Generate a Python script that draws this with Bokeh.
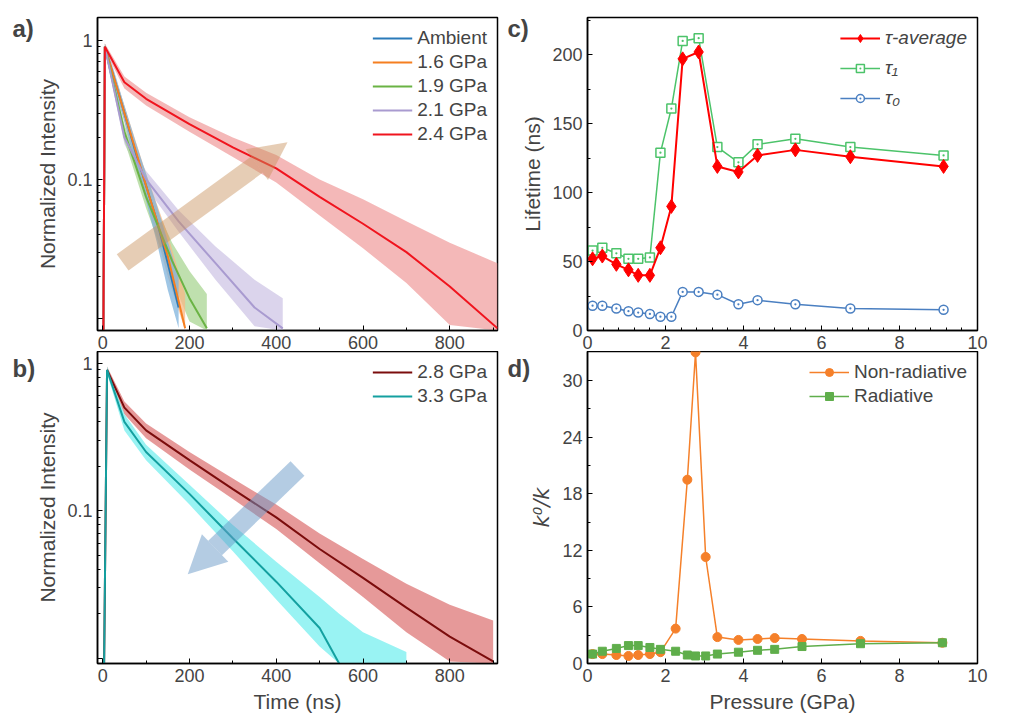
from bokeh.plotting import figure
from bokeh.layouts import row, column
from bokeh.models import FixedTicker, Arrow, NormalHead, Range1d, CustomJSTickFormatter
from bokeh.embed import file_html
from bokeh.resources import INLINE

FONT = "Liberation Sans"

# ---- panel a: decay curves (time ns, normalized intensity)
amb_t = [0, 5, 25, 50, 75, 100, 125, 150, 175]
amb_fit = [0.001, 0.9, 0.55, 0.3, 0.16, 0.09, 0.05, 0.025, 0.012]
amb_lo = [0.001, 0.85, 0.48, 0.26, 0.13, 0.07, 0.035, 0.016, 0.0085]
amb_hi = [0.001, 0.95, 0.62, 0.34, 0.19, 0.11, 0.065, 0.036, 0.02]

p16_t = [0, 5, 50, 100, 150, 190]
p16_fit = [0.001, 0.9, 0.3, 0.09, 0.028, 0.0085]
p16_lo = [0.001, 0.85, 0.26, 0.075, 0.02, 0.0082]
p16_hi = [0.001, 0.95, 0.34, 0.11, 0.04, 0.015]

p19_t = [0, 5, 50, 100, 160, 200, 240]
p19_fit = [0.001, 0.9, 0.22, 0.075, 0.026, 0.014, 0.0085]
p19_lo = [0.001, 0.85, 0.19, 0.062, 0.019, 0.0095, 0.0082]
p19_hi = [0.001, 0.95, 0.25, 0.09, 0.035, 0.022, 0.015]

p21_t = [0, 5, 50, 100, 175, 260, 350, 415]
p21_fit = [0.001, 0.9, 0.2, 0.1, 0.05, 0.025, 0.012, 0.0085]
p21_lo = [0.001, 0.85, 0.18, 0.088, 0.042, 0.019, 0.0088, 0.0082]
p21_hi = [0.001, 0.95, 0.22, 0.115, 0.06, 0.033, 0.019, 0.014]

p24_t = [0, 5, 50, 100, 200, 300, 400, 500, 600, 700, 800, 910]
p24_fit = [0.001, 0.9, 0.5, 0.38, 0.25, 0.17, 0.12, 0.075, 0.048, 0.03, 0.017, 0.0085]
p24_lo = [0.001, 0.85, 0.45, 0.34, 0.22, 0.145, 0.095, 0.055, 0.032, 0.018, 0.009, 0.0082]
p24_hi = [0.001, 0.95, 0.55, 0.42, 0.28, 0.2, 0.15, 0.1, 0.072, 0.05, 0.035, 0.025]

# ---- panel b
p28_t = [0, 10, 50, 100, 200, 300, 400, 500, 600, 700, 800, 900]
p28_fit = [0.001, 0.9, 0.5, 0.35, 0.22, 0.14, 0.09, 0.055, 0.035, 0.022, 0.014, 0.0095]
p28_lo = [0.001, 0.85, 0.45, 0.31, 0.19, 0.12, 0.075, 0.044, 0.026, 0.015, 0.0095, 0.0092]
p28_hi = [0.001, 0.95, 0.55, 0.39, 0.25, 0.165, 0.11, 0.07, 0.047, 0.032, 0.023, 0.018]

p33_t = [0, 10, 50, 100, 200, 300, 400, 500, 545, 600, 700]
p33_fit = [0.001, 0.9, 0.4, 0.25, 0.13, 0.065, 0.033, 0.016, 0.0092, None, None]
p33_lo = [0.001, 0.85, 0.35, 0.22, 0.11, 0.053, 0.025, 0.012, 0.0092, 0.0092, 0.0092]
p33_hi = [0.001, 0.95, 0.45, 0.28, 0.15, 0.08, 0.045, 0.026, 0.02, 0.015, 0.011]

# ---- panel c: lifetimes vs pressure
pressure_c = [0.13, 0.38, 0.74, 1.05, 1.3, 1.6, 1.87, 2.15, 2.44, 2.85, 3.33, 3.87, 4.36, 5.33, 6.74, 9.13]
tau_avg = [52, 54, 48, 44, 40, 40, 60, 90, 197, 202, 119, 115, 127, 131, 126, 119]
tau_1 = [58, 60, 56, 52, 52, 53, 129, 161, 210, 212, 133, 122, 135, 139, 133, 127]
tau_0 = [18, 18, 16, 14, 13, 12, 10, 10, 28, 28, 26, 19, 22, 19, 16, 15]

# ---- panel d: k0/k vs pressure
pressure_d = [0.13, 0.38, 0.74, 1.05, 1.3, 1.6, 1.87, 2.26, 2.56, 2.77, 3.03, 3.33, 3.87, 4.36, 4.8, 5.5, 7.0, 9.1]
nonrad = [1.0, 1.0, 0.9, 0.8, 0.9, 1.0, 1.2, 3.7, 19.5, 33.0, 11.3, 2.8, 2.5, 2.6, 2.7, 2.6, 2.4, 2.2]
rad = [1.0, 1.3, 1.6, 1.9, 1.9, 1.7, 1.5, 1.3, 0.9, 0.8, 0.8, 1.0, 1.2, 1.4, 1.5, 1.8, 2.1, 2.2]


def style(p):
    p.outline_line_color = "black"
    p.outline_line_width = 1.5
    p.xgrid.visible = False
    p.ygrid.visible = False
    for ax in p.xaxis + p.yaxis:
        ax.axis_label_text_font = FONT
        ax.axis_label_text_font_style = "normal"
        ax.axis_label_text_font_size = "21px"
        ax.major_label_text_font = FONT
        ax.major_label_text_font_size = "18px"
        ax.axis_line_width = 1.5
        ax.major_tick_in = 5
        ax.major_tick_out = 0
        ax.minor_tick_in = 3
        ax.minor_tick_out = 0
    if p.legend:
        p.legend.border_line_color = None
        p.legend.background_fill_alpha = 0
        p.legend.label_text_font = FONT
        p.legend.label_text_font_size = "19px"
        p.legend.glyph_width = 40
        p.legend.spacing = 2
        p.legend.padding = 4


def panel_label(p, txt, left, standoff=-48):
    # panel letter drawn as a left-aligned title pulled into the left border
    p.title.text = txt
    p.title.align = "left"
    p.title.offset = -left
    p.title.standoff = standoff
    p.title.text_font = FONT
    p.title.text_font_style = "bold"
    p.title.text_font_size = "24px"


log_ticks = FixedTicker(ticks=[0.01, 0.1, 1],
                        minor_ticks=[0.02, 0.03, 0.04, 0.05, 0.06, 0.07, 0.08, 0.09,
                                     0.2, 0.3, 0.4, 0.5, 0.6, 0.7, 0.8, 0.9])
log_fmt = CustomJSTickFormatter(code="return tick > 0.5 ? '1' : (tick > 0.05 ? '0.1' : '');")

pa = figure(width=502, height=330, frame_width=400, frame_height=313,
            min_border_left=97, min_border_right=5, min_border_top=17, min_border_bottom=0,
            x_range=Range1d(-12, 910), y_range=Range1d(0.0082, 1.46), y_axis_type="log",
            y_axis_label="Normalized Intensity", output_backend="svg", toolbar_location=None)
pa.xaxis.major_label_text_font_size = "0px"
pa.xaxis.ticker = FixedTicker(ticks=[0, 200, 400, 600, 800], minor_ticks=[100, 300, 500, 700, 900])
pa.yaxis.ticker = log_ticks
pa.yaxis.formatter = log_fmt

curves_a = [
    ("Ambient", amb_t, amb_fit, amb_lo, amb_hi, "#2a7ab9", "#7fb3dc"),
    ("1.6 GPa", p16_t, p16_fit, p16_lo, p16_hi, "#f57f20", "#f8b886"),
    ("1.9 GPa", p19_t, p19_fit, p19_lo, p19_hi, "#6ab344", "#a9d693"),
    ("2.1 GPa", p21_t, p21_fit, p21_lo, p21_hi, "#a99bd0", "#cfc6e6"),
    ("2.4 GPa", p24_t, p24_fit, p24_lo, p24_hi, "#f0141e", "#f0a0a0"),
]
for name, t, f, lo, hi, c, cl in reversed(curves_a):
    pa.varea(x=t[1:], y1=lo[1:], y2=hi[1:], color=cl, alpha=0.75)
for name, t, f, lo, hi, c, cl in curves_a:
    pa.line(t, f, color=c, line_width=2, legend_label=name)
pa.add_layout(Arrow(end=NormalHead(size=38, fill_color="#c8905a", fill_alpha=0.45, line_alpha=0),
                    x_start=46, y_start=0.0253, x_end=426, y_end=0.185,
                    line_width=20, line_color="#c8905a", line_alpha=0.45))
pa.legend.location = "top_right"
style(pa)
panel_label(pa, "a)", 85)

pb = figure(width=502, height=382, frame_width=400, frame_height=312,
            min_border_left=97, min_border_right=5, min_border_top=0, min_border_bottom=70,
            x_range=pa.x_range, y_range=Range1d(0.0092, 1.2), y_axis_type="log",
            x_axis_label="Time (ns)", y_axis_label="Normalized Intensity",
            output_backend="svg", toolbar_location=None)
pb.xaxis.ticker = FixedTicker(ticks=[0, 200, 400, 600, 800], minor_ticks=[100, 300, 500, 700, 900])
pb.yaxis.ticker = log_ticks
pb.yaxis.formatter = log_fmt
pb.varea(x=p28_t[1:], y1=p28_lo[1:], y2=p28_hi[1:], color="#e08080", alpha=0.8)
pb.varea(x=p33_t[1:], y1=p33_lo[1:], y2=p33_hi[1:], color="#80f0f0", alpha=0.8)
pb.line(p28_t, p28_fit, color="#7b0c0c", line_width=2, legend_label="2.8 GPa")
pb.line(p33_t, p33_fit, color="#14a0a0", line_width=2, legend_label="3.3 GPa")
pb.add_layout(Arrow(end=NormalHead(size=38, fill_color="#6a9ac8", fill_alpha=0.5, line_alpha=0),
                    x_start=449, y_start=0.193, x_end=196, y_end=0.037,
                    line_width=20, line_color="#6a9ac8", line_alpha=0.5))
pb.legend.location = "top_right"
style(pb)
panel_label(pb, "b)", 85, -60)

pc = figure(width=490, height=330, frame_width=390, frame_height=313,
            min_border_left=85, min_border_right=15, min_border_top=17, min_border_bottom=0,
            x_range=Range1d(0, 10), y_range=Range1d(0, 227),
            y_axis_label="Lifetime (ns)", output_backend="svg", toolbar_location=None)
pc.xaxis.major_label_text_font_size = "0px"
pc.yaxis.ticker = FixedTicker(ticks=[0, 50, 100, 150, 200], minor_ticks=[25, 75, 125, 175, 225])
pc.line(pressure_c, tau_1, color="#4cc36a", line_width=1.5, legend_label="τ₁")
pc.scatter(pressure_c, tau_1, marker="square_dot", size=9, line_color="#4cc36a", fill_color="white",
           line_width=1.5, legend_label="τ₁")
pc.line(pressure_c, tau_0, color="#4a7fc1", line_width=1.5, legend_label="τ₀")
pc.scatter(pressure_c, tau_0, marker="circle_dot", size=9, line_color="#4a7fc1", fill_color="white",
           line_width=1.5, legend_label="τ₀")
pc.line(pressure_c, tau_avg, color="#ff0000", line_width=2, legend_label="τ-average")
pc.scatter(pressure_c, tau_avg, marker="diamond", size=14, color="#ff0000", legend_label="τ-average")
pc.legend.location = "top_right"
style(pc)
pc.legend.items = [pc.legend.items[2], pc.legend.items[0], pc.legend.items[1]]
pc.legend.spacing = 8
pc.legend.label_text_font_style = "italic"
panel_label(pc, "c)", 80)

pd = figure(width=490, height=382, frame_width=390, frame_height=312,
            min_border_left=85, min_border_right=15, min_border_top=0, min_border_bottom=70,
            x_range=pc.x_range, y_range=Range1d(0, 33.1),
            x_axis_label="Pressure (GPa)", y_axis_label="k⁰/k",
            output_backend="svg", toolbar_location=None)
pd.xaxis.ticker = FixedTicker(ticks=[0, 2, 4, 6, 8, 10], minor_ticks=[1, 3, 5, 7, 9])
pd.yaxis.ticker = FixedTicker(ticks=[0, 6, 12, 18, 24, 30], minor_ticks=[3, 9, 15, 21, 27])
pd.line(pressure_d, nonrad, color="#f5802a", line_width=1.5, legend_label="Non-radiative")
pd.scatter(pressure_d, nonrad, marker="circle", size=9, color="#f5802a", legend_label="Non-radiative")
pd.line(pressure_d, rad, color="#5fae4b", line_width=1.5, legend_label="Radiative")
pd.scatter(pressure_d, rad, marker="square", size=8, color="#5fae4b", legend_label="Radiative")
pd.legend.location = "top_right"
style(pd)
pd.yaxis.axis_label_text_font = "DejaVu Sans"
pd.yaxis.axis_label_text_font_style = "italic"
panel_label(pd, "d)", 80, -60)

layout = row(column(pa, pb), column(pc, pd))
open("out.html", "w").write(file_html(layout, INLINE))
